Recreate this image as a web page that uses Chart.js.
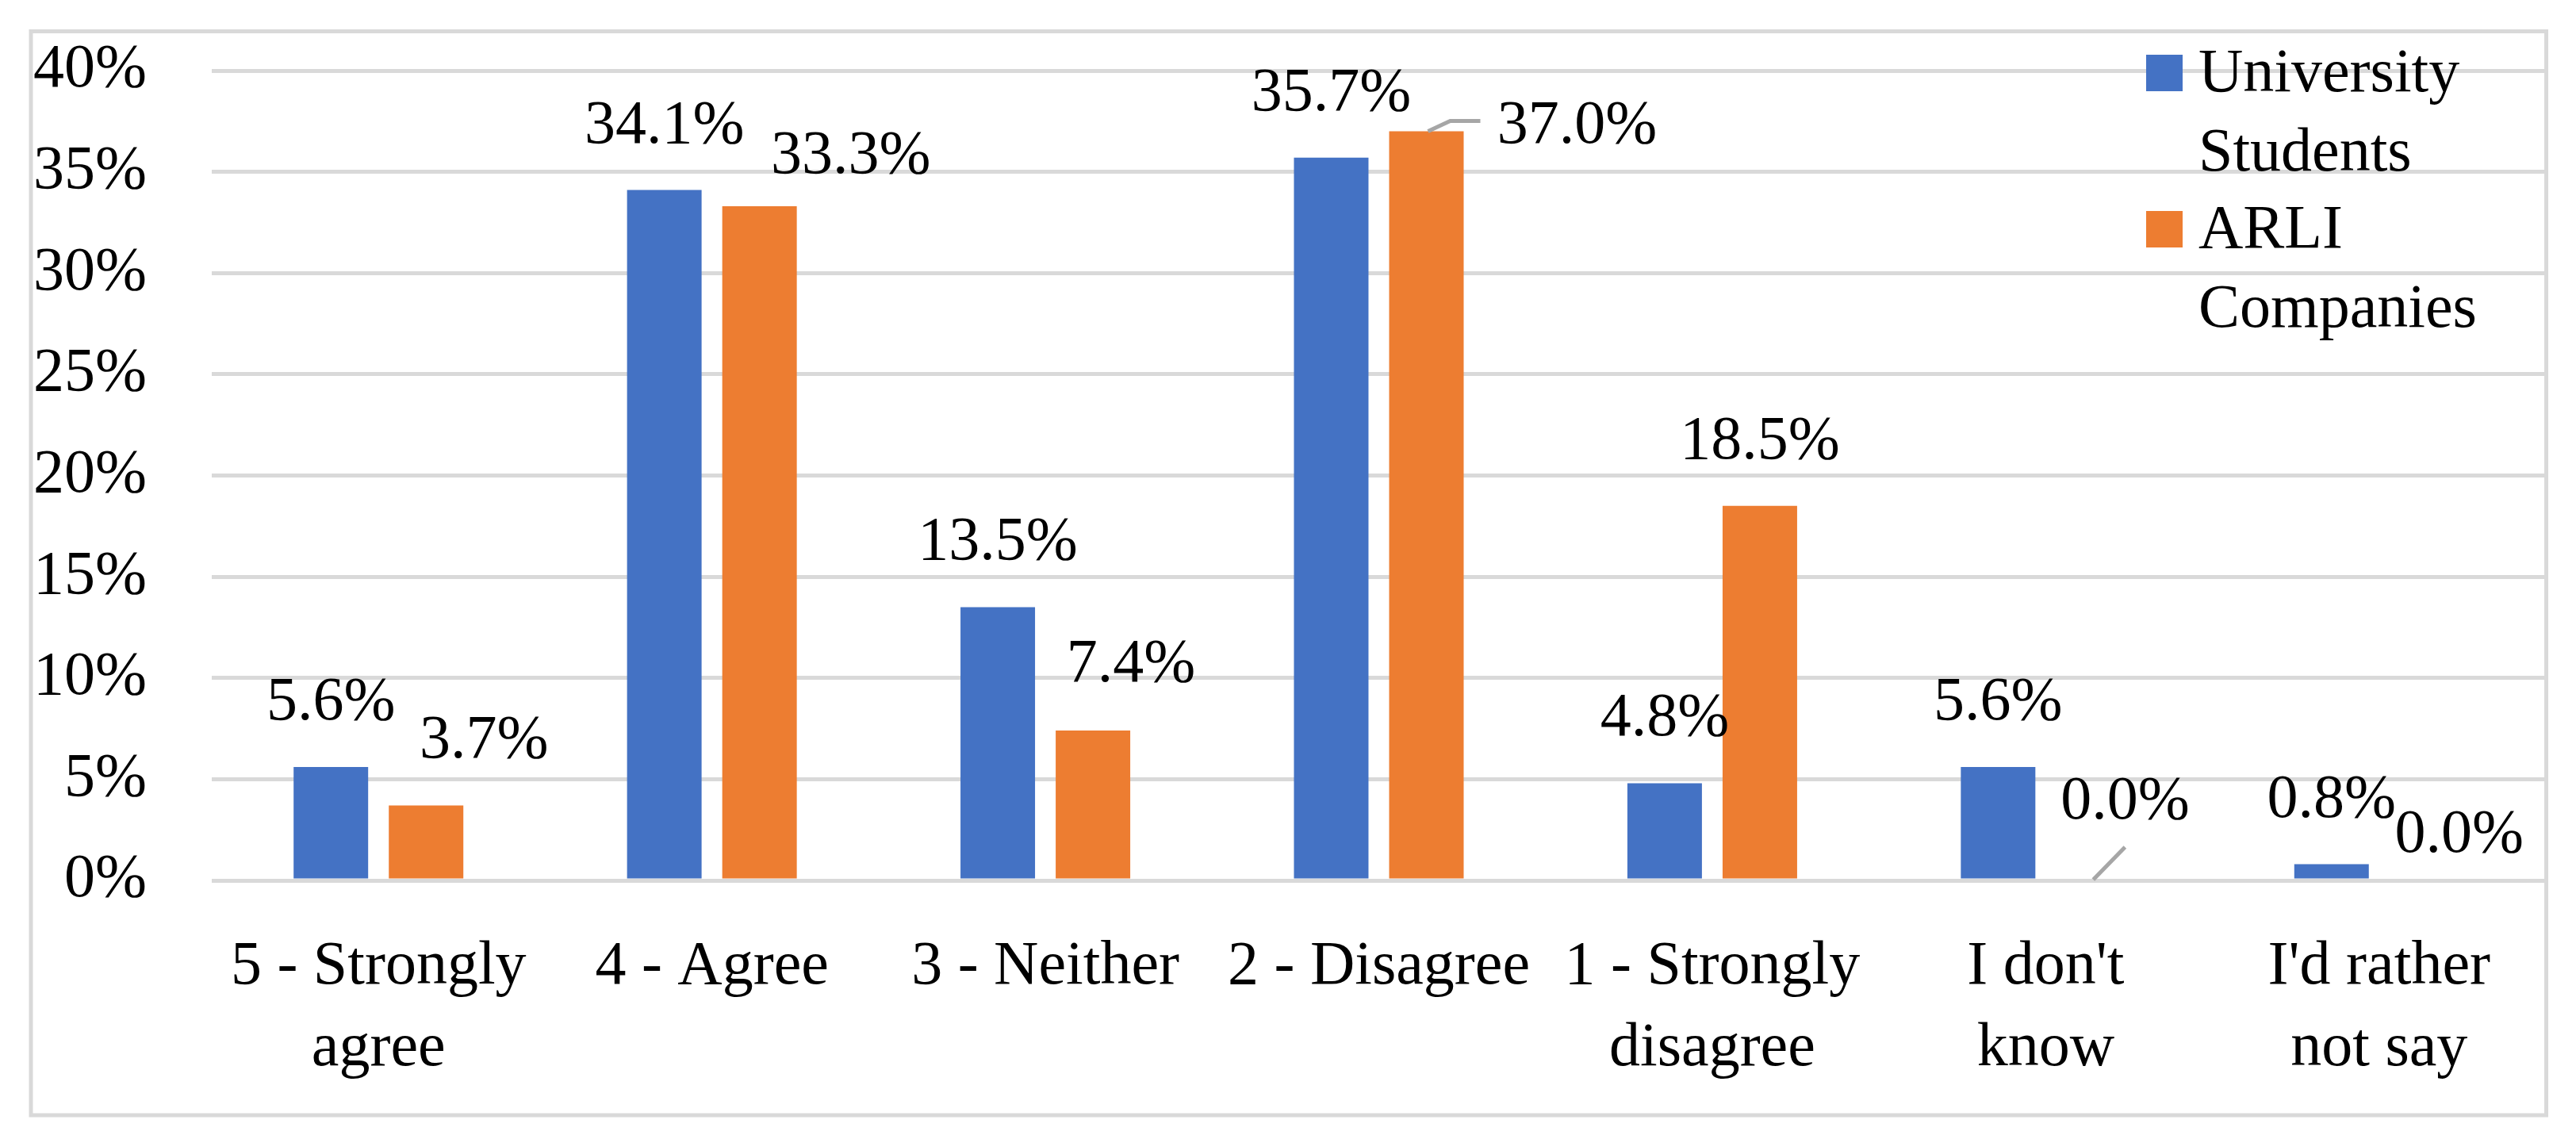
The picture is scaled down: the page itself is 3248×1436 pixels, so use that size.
<!DOCTYPE html>
<html>
<head>
<meta charset="utf-8">
<script src="https://cdn.jsdelivr.net/npm/chart.js@4.4.1/dist/chart.umd.min.js"></script>
<style>
    html, body { margin: 0; padding: 0; background: #ffffff; }
    #wrap { width: 3248px; height: 1436px; position: relative; }
</style>
</head>
<body>
<div id="wrap"><canvas id="surveyChart"></canvas></div>
<script>
// --- data ---
const categories = [
    ['5 - Strongly', 'agree'],
    '4 - Agree',
    '3 - Neither',
    '2 - Disagree',
    ['1 - Strongly', 'disagree'],
    ["I don't", 'know'],
    ["I'd rather", 'not say']
];
const seriesNames = ['University Students', 'ARLI Companies'];
const universityStudents = [5.6, 34.1, 13.5, 35.7, 4.8, 5.6, 0.8];
const arliCompanies = [3.7, 33.3, 7.4, 37.0, 18.5, 0.0, 0.0];
const yTickValues = [0, 5, 10, 15, 20, 25, 30, 35, 40];

const COLORS = { blue: '#4472C4', orange: '#ED7D31', grid: '#D9D9D9', leader: '#A6A6A6' };
const FONT = "'Liberation Serif', 'Times New Roman', serif";
const FONT_SIZE = 78;

// label nudges (dataset-index) relative to the top centre of each bar
const labelNudge = {
    '1-0': { dx: 73, dy: 61 },
    '1-1': { dx: 115, dy: 42 },
    '1-2': { dx: 48, dy: 62 },
    '1-3': { dx: 190, dy: -14, leader: [[2, 0], [30, -13], [68, -13]] },
    '1-5': { dx: 40, dy: 78, leader: [[0, -1], [40, -42]] },
    '1-6': { dx: 41, dy: 36 }
};

const dataLabels = {
    id: 'dataLabels',
    afterDatasetsDraw(chart) {
        const ctx = chart.ctx;
        ctx.save();
        ctx.font = FONT_SIZE + 'px ' + FONT;
        ctx.fillStyle = '#000000';
        ctx.textAlign = 'center';
        ctx.textBaseline = 'alphabetic';
        chart.data.datasets.forEach(function (ds, di) {
            chart.getDatasetMeta(di).data.forEach(function (bar, i) {
                const n = labelNudge[di + '-' + i] || { dx: 0, dy: 60 };
                if (n.leader) {
                    ctx.strokeStyle = COLORS.leader;
                    ctx.lineWidth = 5;
                    ctx.beginPath();
                    n.leader.forEach(function (p, k) {
                        if (k === 0) ctx.moveTo(bar.x + p[0], bar.y + p[1]);
                        else ctx.lineTo(bar.x + p[0], bar.y + p[1]);
                    });
                    ctx.stroke();
                }
                ctx.fillText(ds.data[i].toFixed(1) + '%', bar.x + n.dx, bar.y - n.dy);
            });
        });
        ctx.restore();
    }
};

// legend drawn by hand so each label can wrap onto two lines
const wrappedLegend = {
    id: 'wrappedLegend',
    afterDraw(chart) {
        const ctx = chart.ctx;
        const area = chart.chartArea;
        const x0 = area.right - 504;
        const y0 = area.top - 20;
        ctx.save();
        ctx.font = FONT_SIZE + 'px ' + FONT;
        ctx.textAlign = 'left';
        ctx.textBaseline = 'alphabetic';
        chart.data.datasets.forEach(function (ds, di) {
            const top = y0 + di * 197;
            ctx.fillStyle = ds.backgroundColor;
            ctx.fillRect(x0, top, 46, 46);
            ctx.fillStyle = '#000000';
            ds.label.split(' ').forEach(function (word, li) {
                ctx.fillText(word, x0 + 66, top + 46 + li * 100);
            });
        });
        // outer frame
        ctx.strokeStyle = COLORS.grid;
        ctx.lineWidth = 5;
        ctx.strokeRect(39, 39.5, 3171.5, 1366.5);
        ctx.restore();
    }
};

Chart.defaults.font.family = FONT;
Chart.defaults.font.size = FONT_SIZE;
Chart.defaults.color = '#000000';

new Chart(document.getElementById('surveyChart').getContext('2d'), {
    type: 'bar',
    data: {
        labels: categories,
        datasets: [
            { label: seriesNames[0], data: universityStudents, backgroundColor: COLORS.blue },
            { label: seriesNames[1], data: arliCompanies, backgroundColor: COLORS.orange }
        ]
    },
    options: {
        responsive: true,
        maintainAspectRatio: false,
        devicePixelRatio: 1,
        animation: false,
        layout: { padding: { left: 0, top: 89, right: 38, bottom: 0 } },
        datasets: { bar: { categoryPercentage: 0.571, barPercentage: 0.783 } },
        plugins: { legend: { display: false }, tooltip: { enabled: false } },
        scales: {
            x: {
                grid: { display: false },
                border: { display: false },
                ticks: { padding: 50, font: { lineHeight: 1.32 }, maxRotation: 0, autoSkip: false },
                afterFit(scale) {
                    scale.height = 326;
                    scale.paddingLeft = 0;
                    scale.paddingRight = 0;
                }
            },
            y: {
                min: 0,
                max: 40,
                afterBuildTicks(scale) { scale.ticks = yTickValues.map(function (v) { return { value: v }; }); },
                grid: { color: COLORS.grid, lineWidth: 5, drawTicks: false },
                border: { display: false },
                ticks: { padding: 82, callback: function (v) { return v + '%'; } },
                afterFit(scale) {
                    scale.width = 267;
                    scale.paddingTop = 0;
                    scale.paddingBottom = 0;
                }
            }
        }
    },
    plugins: [dataLabels, wrappedLegend]
});
</script>
</body>
</html>
